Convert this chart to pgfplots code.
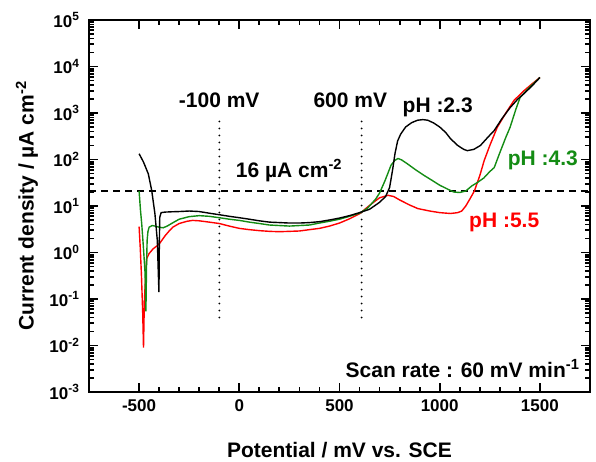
\documentclass[border=0pt]{standalone}
\usepackage{fontspec}
\setmainfont{Liberation Sans}
\usepackage{pgfplots}
\pgfplotsset{compat=1.18}
\definecolor{phgreen}{RGB}{20,140,20}
\newcommand{\lbl}{\fontsize{21}{24}\selectfont\bfseries}
\newcommand{\tck}{\fontsize{17}{20}\selectfont\bfseries}

\begin{document}
\begin{tikzpicture}
\begin{axis}[
  at={(89pt,70pt)}, anchor=south west,
  scale only axis, width=501pt, height=372pt,
  xmin=-750, xmax=1750,
  ymode=log, ymin=1e-3, ymax=1e5,
  xtick={-500,0,500,1000,1500},
  xticklabels={-500,0,500,1000,1500},
  minor x tick num=4,
  ytick={0.001,0.01,0.1,1,10,100,1000,10000,100000},
  yticklabels={10\textsuperscript{-3},10\textsuperscript{-2},10\textsuperscript{-1},10\textsuperscript{0},10\textsuperscript{1},10\textsuperscript{2},10\textsuperscript{3},10\textsuperscript{4},10\textsuperscript{5}},
  xtick pos=both, ytick pos=both,
  xticklabel pos=lower, yticklabel pos=left,
  tick align=inside,
  axis line style={line width=2.5pt},
  major tick length=9pt, minor tick length=5pt,
  every tick/.style={black, line width=1.8pt},
  tick label style={font=\tck},
  xticklabel style={yshift=-4pt},
  yticklabel style={xshift=-6pt},
  label style={font=\lbl},
  xlabel={Potential / mV vs. SCE},
  ylabel={Current density / µA cm\textsuperscript{-2}},
  xlabel style={at={(axis description cs:0.5,-0.156)}, anchor=center},
  ylabel style={at={(axis description cs:-0.124,0.5)}, anchor=center},
  clip=false,
]
% reference lines
\addplot[black, line width=1.2pt, dash pattern=on 7pt off 5pt] coordinates {(-750,21) (1750,21)};
\addplot[black, line width=2pt, line cap=round, dash pattern=on 0pt off 7pt] coordinates {(-100,0.04) (-100,800)};
\addplot[black, line width=2pt, line cap=round, dash pattern=on 0pt off 7pt] coordinates {(610,0.04) (610,800)};

% pH 5.5
\addplot[red, line width=1.4pt] coordinates {
(-500,3.6) (-494,1.2) (-488,0.3) (-482,0.05) (-478,0.009) (-474,0.08) (-468,0.3) (-462,0.74)
(-450,0.95) (-430,1.2) (-410,1.4) (-396,1.6) (-370,2.3) (-350,2.9) (-332,3.5) (-300,4.2)
(-260,4.7) (-233,4.9) (-200,4.8) (-150,4.5) (-100,4.2) (-50,3.7) (0,3.3) (50,3.1) (100,2.95)
(150,2.85) (200,2.8) (250,2.85) (300,2.9) (350,3.1) (400,3.3) (450,3.7) (500,4.3) (550,5.3)
(600,6.8) (640,9.5) (670,12) (700,15) (742,17) (770,16) (800,13.5) (850,10.5) (891,8.8)
(950,7.8) (1000,7.2) (1054,6.9) (1090,7.2) (1110,7.8) (1130,10) (1150,14) (1173,21) (1200,45)
(1222,95) (1250,200) (1287,490) (1330,1000) (1371,1870) (1420,3000) (1460,4200) (1500,5800)
};

% pH 4.3
\addplot[phgreen, line width=1.4pt] coordinates {
(-500,21) (-493,8) (-487,4.2) (-478,1.2) (-470,0.35) (-466,0.054) (-463,0.5) (-460,1.8)
(-456,2.8) (-450,3.5) (-435,3.8) (-420,3.7) (-400,3.5) (-380,3.4) (-360,3.7) (-330,4.4)
(-300,5.2) (-250,5.9) (-200,6.2) (-150,6.0) (-100,5.6) (-50,5.2) (0,4.9) (50,4.5) (100,4.2)
(150,3.9) (200,3.8) (250,3.7) (300,3.8) (350,3.9) (400,4.3) (450,4.7) (500,5.2) (550,6.0)
(600,7.0) (640,9) (680,14) (700,19) (727,35) (757,75) (775,95) (792,105) (810,98) (840,80)
(880,60) (920,46) (960,36) (1000,28) (1040,23) (1070,20) (1100,19.5) (1130,21) (1160,27)
(1188,32) (1220,40) (1250,55) (1272,67) (1300,140) (1330,300) (1351,490) (1380,1200)
(1401,2150) (1440,3300) (1500,5800)
};

% pH 2.3
\addplot[black, line width=1.4pt] coordinates {
(-500,133) (-478,88) (-454,49) (-437,21.5) (-421,6.8) (-409,1.8) (-404,0.35) (-401,0.14)
(-399,1.5) (-397,5.7) (-390,7.2) (-370,7.4) (-340,7.5) (-300,7.6) (-250,7.8) (-200,7.6)
(-150,7.0) (-100,6.5) (-50,6.0) (0,5.6) (50,5.2) (100,4.8) (150,4.5) (200,4.4) (250,4.3)
(300,4.3) (350,4.4) (400,4.6) (450,5.0) (500,5.5) (550,6.2) (600,7.2) (650,8.5) (700,12)
(730,16) (750,25) (765,60) (777,135) (790,250) (805,350) (830,500) (860,620) (890,700)
(916,720) (940,700) (970,610) (1000,500) (1030,380) (1054,280) (1090,200) (1120,165)
(1138,155) (1170,165) (1203,200) (1240,300) (1272,420) (1310,750) (1351,1300) (1390,2000)
(1420,2600) (1460,3800) (1500,5800)
};

% annotations
\node[font=\lbl] at (axis cs:-100,1860) {-100 mV};
\node[font=\lbl] at (axis cs:554,1860) {600 mV};
\node[font=\lbl] at (axis cs:990,1320) {pH :2.3};
\node[font=\lbl] at (axis cs:248,58) {16 µA cm\textsuperscript{-2}};
\node[font=\lbl, text=phgreen] at (axis cs:1515,95) {pH :4.3};
\node[font=\lbl, text=red] at (axis cs:1322,4.4) {pH :5.5};
\node[font=\lbl] at (axis cs:1114,0.0032) {Scan rate : 60 mV min\textsuperscript{-1}};
\end{axis}
\pgfresetboundingbox
\path[use as bounding box] (0pt,0pt) rectangle (596pt,462pt);
\end{tikzpicture}
\end{document}
